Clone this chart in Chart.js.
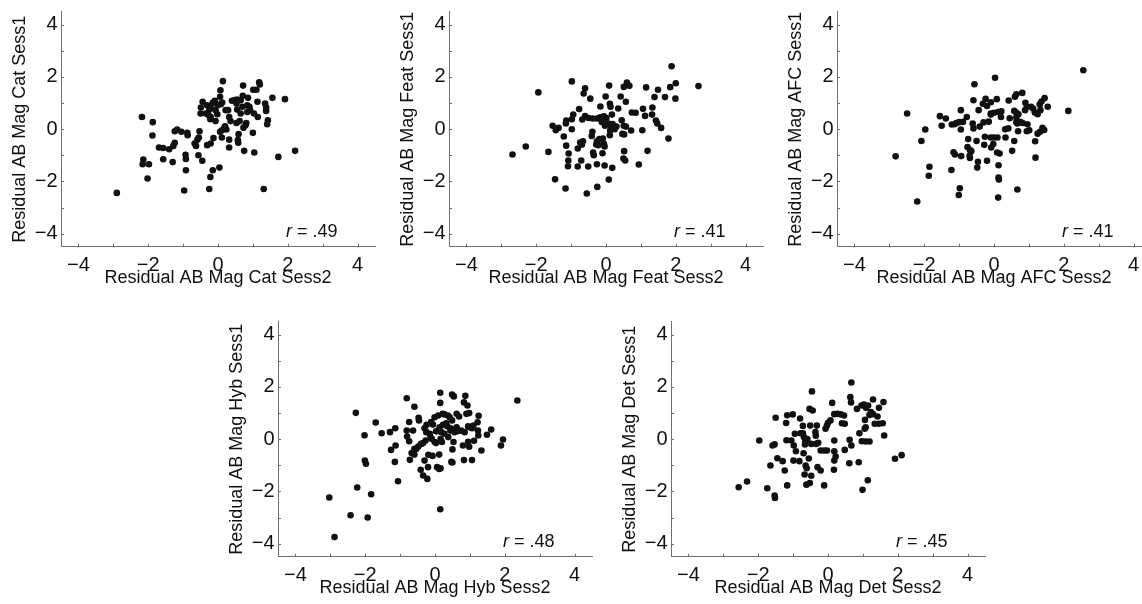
<!DOCTYPE html>
<html>
<head>
<meta charset="utf-8">
<script src="https://cdn.jsdelivr.net/npm/chart.js@4.4.0/dist/chart.umd.min.js"></script>
<style>
  html, body { margin: 0; padding: 0; background: #fff; }
  body { position: relative; width: 1142px; height: 604px; overflow: hidden; }
  .panel { position: absolute; width: 400px; height: 300px; }
</style>
</head>
<body>
<div class="panel" style="left:0px;top:0px"><canvas id="cat" width="400" height="300"></canvas></div>
<div class="panel" style="left:388px;top:0px"><canvas id="feat" width="400" height="300"></canvas></div>
<div class="panel" style="left:776px;top:0px"><canvas id="afc" width="400" height="300"></canvas></div>
<div class="panel" style="left:217px;top:310px"><canvas id="hyb" width="400" height="300"></canvas></div>
<div class="panel" style="left:610px;top:310px"><canvas id="det" width="400" height="300"></canvas></div>
<script>
const conditions = ['Cat', 'Feat', 'AFC', 'Hyb', 'Det'];
const rValues = ['.49', '.41', '.41', '.48', '.45'];
const tickValues = [-4, -3, -2, -1, 0, 1, 2, 3, 4];
const tickLabels = ['\u22124', '', '\u22122', '', '0', '', '2', '', '4'];

// Cat: x = session 2, y = session 1
const catSess2 = [
  0.14, 0.72, 1.18, 1.20, 1.01, 1.10, 0.07, 0.71, 1.56, 1.92,
  0.86, 0.06, 0.40, 0.48, 0.55, 0.53, 0.65, -0.09, -0.15, -0.01,
  -0.44, -0.31, -0.49, -0.21, -0.25, -0.07, 0.08, 0.12, 0.22, 0.29,
  0.84, 0.90, 0.92, 0.84, 1.13, 1.35, 1.38, 1.38, 0.70, 0.55,
  0.65, -0.50, -0.35, -0.27, -0.21, -0.22, -0.07, -0.02, 0.32, 0.36,
  0.53, 0.62, 0.81, 0.79, 0.73, 1.03, 1.14, 1.43, 1.41, 0.20,
  0.18, 0.24, 0.06, 0.11, 0.59, 1.00, -1.24, -1.17, -1.05, -0.88,
  -0.87, -0.53, -0.55, -0.59, -0.67, -0.63, -0.31, -0.21, -0.13, 0.11,
  0.32, 0.57, 0.58, 0.32, 0.75, 1.04, -1.28, -1.24, -1.69, -1.57,
  -1.40, -1.57, -1.30, -0.93, -0.92, -0.56, -0.45, -2.14, -2.16, -1.98,
  -0.92, -0.15, 0.04, -0.22, -2.02, -2.18, -1.87, -1.88, -2.90, -0.97,
  -0.25, 1.31, 1.73, 2.21
];
const catSess1 = [
  1.84, 1.67, 1.80, 1.71, 1.51, 1.51, 1.49, 1.28, 1.20, 1.15,
  1.20, 1.24, 1.09, 1.12, 1.14, 0.98, 1.11, 1.09, 1.01, 0.92,
  1.05, 0.92, 0.83, 0.82, 0.75, 0.73, 0.96, 1.02, 0.73, 0.73,
  0.92, 0.86, 0.73, 0.66, 1.05, 0.98, 0.83, 0.70, 0.86, 0.75,
  0.60, 0.60, 0.60, 0.54, 0.47, 0.38, 0.31, 0.57, 0.47, 0.31,
  0.24, 0.31, 0.24, 0.15, 0.06, 0.60, 0.47, 0.34, 0.19, 0.11,
  0.03, -0.01, -0.10, -0.04, -0.19, -0.14, -0.08, -0.01, -0.10, -0.14,
  -0.23, -0.08, -0.32, -0.40, -0.55, -0.64, -0.61, -0.55, -0.34, -0.32,
  -0.40, -0.42, -0.52, -0.70, -0.83, -0.89, -0.64, -0.52, -0.70, -0.72,
  -0.77, -1.15, -1.26, -0.98, -1.14, -1.00, -1.21, -1.16, -1.34, -1.34,
  -1.57, -1.57, -1.47, -1.83, -1.89, 0.47, 0.27, -0.24, -2.44, -2.35,
  -2.29, -2.29, -1.06, -0.83
];

const featSess2 = [
  1.88, 2.65, 2.00, 1.84, 1.49, 1.15, 1.99, 1.69, 1.39, -0.98,
  -1.94, -0.60, -0.64, -0.45, 0.09, 0.51, 0.60, 0.67, 0.57, 0.42,
  -0.01, 0.11, 0.13, -0.16, 0.35, 0.17, -0.77, -0.94, -1.14, -1.15,
  -0.98, -0.68, -0.60, -0.50, -0.38, -0.26, -0.17, -0.06, -0.03, 0.01,
  -0.12, -0.03, 0.07, 0.15, 0.19, 0.22, 0.25, 0.12, 0.11, 0.30,
  0.45, 0.51, 0.57, 0.52, 0.47, 0.72, 0.74, 0.85, 1.06, 1.12,
  1.32, 1.33, 1.43, 1.47, 1.58, 1.04, 1.79, 1.19, 0.94, 0.52,
  0.50, 0.55, -1.53, -1.44, -1.36, -1.21, -0.98, -1.14, -1.65, -2.30,
  -2.68, -1.07, -1.08, -1.09, -0.81, -0.71, -0.81, -0.69, -0.66, -0.74,
  -0.41, -0.39, -0.26, -0.28, -0.22, -0.19, -0.09, -0.06, -0.04, -0.10,
  -0.37, -0.35, -0.51, -0.26, -0.04, 0.18, -1.46, -1.16, -0.55, -0.25, 0.08
];
const featSess1 = [
  2.41, 1.65, 1.76, 1.61, 1.51, 1.60, 1.17, 1.23, 1.23, 1.83,
  1.41, 1.57, 1.37, 1.17, 1.67, 1.62, 1.79, 1.66, 1.05, 1.25,
  1.25, 0.97, 0.86, 0.87, 0.79, 0.56, 0.77, 0.56, 0.33, 0.22,
  0.38, 0.37, 0.50, 0.43, 0.41, 0.41, 0.46, 0.49, 0.38, 0.43,
  0.28, 0.13, 0.22, 0.09, 0.20, 0.05, 0.00, -0.05, -0.23, 0.10,
  0.34, 0.13, 0.10, -0.20, -0.18, -0.05, 0.64, 0.63, 0.78, 0.51,
  0.56, 0.83, 0.33, 0.22, 0.05, -0.04, -0.36, -0.83, -1.35, -0.84,
  -1.12, -1.20, 0.13, -0.04, 0.05, -0.28, 0.00, -0.63, -0.87, -0.66,
  -0.97, -0.93, -1.20, -1.42, -1.43, -1.20, -0.74, -0.59, -0.46, -0.51,
  -0.26, -0.10, -0.46, -0.59, -0.61, -0.38, -0.36, -0.56, -0.66, -0.92,
  -0.89, -1.00, -1.43, -1.34, -1.39, -1.48, -1.92, -2.27, -2.46, -2.21, -1.93
];

const afcSess2 = [
  2.56, 0.03, -0.56, 2.13, -2.49, -2.82, -2.20, -1.97, -2.08, -1.85,
  -1.87, -1.22, -0.98, -1.01, 0.12, 0.67, 0.13, 0.14, 0.13, -0.20,
  -0.46, -0.48, 1.19, 0.52, 0.58, 1.18, -1.55, -1.38, -1.50, -1.21,
  -1.13, -1.08, -1.00, -0.89, -0.95, -0.78, -0.95, -0.59, -0.44, -0.61,
  -0.59, -0.41, -0.30, -0.15, -0.24, -0.32, -0.20, -0.09, 0.08, -0.09,
  0.00, 0.12, 0.21, -0.09, 0.20, 0.42, 0.60, 0.64, 0.81, 0.58,
  0.64, 0.70, 0.64, 0.67, 0.64, 0.75, 0.82, 0.96, 0.45, 0.41,
  0.32, 0.33, 0.94, 1.01, 0.69, 0.90, 0.94, 0.89, 1.06, 1.12,
  1.17, 1.25, 1.31, 1.36, 1.45, 1.33, 1.54, 1.39, 1.44, 1.32,
  1.25, -0.74, -0.76, -0.69, -0.65, -0.70, -0.69, -0.94, -1.12, -1.16,
  -0.50, -0.26, -0.09, 0.00, 0.10, -0.02, -0.08, -0.28, 0.09, 0.16
];
const afcSess1 = [
  2.26, 1.97, 1.72, 0.70, 0.60, -1.04, -2.77, -0.01, -0.45, -1.44,
  -1.78, -1.56, -2.26, -2.52, -2.62, -2.31, -1.85, -1.93, -1.38, -1.21,
  -1.25, -1.47, -1.09, -0.83, -0.45, -0.46, 0.50, 0.41, 0.13, 0.18,
  0.19, 0.24, 0.27, 0.28, 0.73, 0.47, -0.01, 1.11, 0.73, 0.22,
  0.03, 0.10, 0.26, 0.29, 1.16, 0.97, 0.89, 1.03, 1.15, 0.60,
  0.63, 0.66, 0.69, 0.56, 0.47, 1.10, 1.24, 1.34, 1.39, 0.70,
  0.63, 0.57, 0.45, 0.22, 0.27, 0.28, 0.24, 0.19, 0.42, 0.03,
  0.00, -0.32, -0.08, -0.04, -0.08, 1.01, 0.86, 0.73, 0.86, 0.79,
  0.64, 0.57, 0.95, 1.06, 1.19, 0.73, 0.86, 0.05, -0.03, -0.10,
  -0.17, -0.38, -0.68, -0.80, -0.84, -1.02, -1.10, -1.03, -0.97, -0.88,
  -0.45, -0.29, -0.32, -0.32, -0.32, -0.57, -0.70, -0.60, -0.89, -0.93
];

const hybSess2 = [
  2.36, 0.15, 0.49, 0.54, 0.87, -0.81, -0.59, 0.15, 0.83, 0.93,
  -2.27, -1.70, -2.02, -1.53, -1.29, -1.14, -1.13, -1.26, -1.15, -0.72,
  -0.59, -2.01, -1.98, -1.06, -2.23, -3.03, -1.83, -2.42, -1.93, -2.88,
  0.15, -0.41, -0.34, -0.22, -0.20, -0.30, -0.19, -0.07, 0.12, 0.06,
  0.12, 0.16, 0.47, 0.50, 0.83, 1.06, 0.50, 0.53, 0.80, 0.98,
  0.95, 1.12, 1.33, 1.49, 1.61, 1.25, 1.22, 1.00, 1.10, 1.06,
  0.95, 0.85, 0.75, 0.66, 0.56, 0.44, 0.38, 0.27, 0.18, 0.16,
  0.20, 0.03, -0.01, -0.09, -0.15, -0.25, -0.30, -0.27, -0.34, -0.40,
  -0.48, -0.53, -0.59, -0.67, -0.74, -0.80, -0.81, -0.74, -0.63, -0.47,
  -0.46, -0.24, -0.06, -0.01, -0.11, 0.09, 0.22, 0.27, 0.37, 0.42,
  0.49, 0.32, 0.45, 0.62, 0.69, 0.90, 0.98, 1.23, 1.24, 1.89,
  1.95, 0.62, 0.35, 0.23, 0.13, 0.03, -0.13
];
const hybSess1 = [
  1.48, 1.78, 1.71, 1.64, 1.66, 1.57, 1.24, 1.39, 1.41, 1.29,
  1.01, 0.64, 0.15, 0.23, 0.27, 0.42, -0.24, -0.41, -0.87, -0.79,
  -0.59, -0.82, -0.94, -1.61, -1.85, -2.23, -2.11, -2.91, -3.00, -3.75,
  -2.68, -1.17, -1.39, -1.52, -1.07, -0.82, -0.60, -0.64, -0.59, -1.07,
  -1.14, -1.11, -0.87, -0.89, -0.80, -0.80, -0.39, -0.11, -0.24, -0.29,
  -0.10, -0.06, -0.43, 0.17, 0.37, 0.90, 0.65, 0.46, 0.52, 0.42,
  0.49, 0.27, 0.33, 0.31, 0.27, 0.33, 0.08, 0.21, 0.27, 0.01,
  -0.11, -0.15, -0.11, 0.01, 0.21, 0.27, 0.42, -0.05, -0.15, -0.18,
  -0.28, -0.37, -0.37, -0.53, -0.08, 0.10, 0.33, 0.66, 0.33, 0.82,
  0.72, 0.55, 0.56, 0.84, 0.66, 0.91, 0.97, 0.95, 0.91, 0.84,
  0.72, 0.61, 0.42, 0.97, 0.87, 0.97, 1.00, 0.33, 0.14, -0.24,
  -0.01, 0.46, 0.50, 0.55, 0.46, 0.30, 0.08
];

const detSess2 = [
  0.67, -0.46, 0.64, 0.66, 1.29, 1.59, 0.12, 0.96, 1.03, 1.09,
  1.15, 0.83, 1.46, 1.23, 1.29, 1.19, 1.42, -0.53, -0.44, -1.50,
  -1.17, -1.01, -1.20, -0.80, 0.18, 0.27, 0.37, 0.46, 0.40, 0.48,
  0.07, 0.00, -0.03, -0.07, -0.32, -0.36, -0.35, -0.51, -0.72, -0.79,
  -0.72, -0.69, -0.65, -0.59, -0.66, -0.48, -0.34, -0.28, -0.21, -0.11,
  -0.03, 0.18, 0.18, 0.48, 0.62, 0.67, 0.97, 1.08, 1.19, 0.90,
  1.05, 1.08, 1.06, 1.34, 1.46, 1.57, 1.61, -0.95, -0.98, -0.92,
  -1.05, -1.19, -1.53, -1.59, -1.97, -1.45, -1.30, -1.65, -1.24, -0.99,
  -0.82, -0.70, -0.55, -0.64, -0.61, -0.67, -0.48, -0.52, -0.62, -0.30,
  -0.21, -0.11, 0.17, 0.22, 0.18, 0.61, 0.88, 1.14, 0.99, 1.92,
  2.11, -2.56, -2.32, -1.74, -1.53, -1.52, -1.17
];
const detSess1 = [
  2.17, 1.83, 1.61, 1.41, 1.52, 1.42, 1.39, 1.29, 1.33, 1.20,
  1.29, 1.16, 1.20, 1.04, 0.96, 0.93, 0.87, 1.16, 1.10, 0.82,
  0.92, 0.95, 0.62, 0.79, 0.96, 0.97, 0.95, 0.91, 0.61, 0.59,
  0.72, 0.63, 0.52, 0.40, 0.52, 0.27, 0.13, 0.52, 0.51, 0.23,
  0.23, 0.08, -0.05, 0.01, -0.20, -0.18, -0.18, -0.14, -0.43, -0.43,
  -0.43, -0.05, -0.46, -0.41, -0.02, -0.24, -0.08, -0.09, -0.09, 0.23,
  0.40, 0.46, 0.74, 0.59, 0.59, 0.61, 0.14, 0.21, -0.24, -0.46,
  -0.05, -0.04, -0.20, -0.24, -0.05, -0.73, -0.84, -1.01, -1.20, -0.82,
  -0.84, -0.54, -0.74, -1.01, -1.11, -1.35, -1.40, -1.68, -1.74, -1.07,
  -1.20, -1.77, -1.17, -0.66, -0.82, -0.92, -0.88, -1.57, -1.94, -0.75,
  -0.61, -1.84, -1.62, -1.88, -2.16, -2.25, -1.77
];

const FONT = '"Liberation Sans", Arial, Helvetica, sans-serif';
const AXIS_COLOR = '#707070';
const TEXT_COLOR = '#111';

Chart.defaults.font.family = FONT;
Chart.defaults.font.size = 18;
Chart.defaults.color = TEXT_COLOR;

// matlab style: small tick marks pointing into the plot, plus the r label
const insideTicks = {
  id: 'insideTicks',
  afterDraw(chart, args, opts) {
    const { ctx, chartArea: a, scales: { x, y } } = chart;
    ctx.save();
    ctx.strokeStyle = AXIS_COLOR;
    ctx.lineWidth = 1;
    ctx.beginPath();
    tickValues.forEach(v => {
      const px = Math.round(x.getPixelForValue(v)) + 0.5;
      ctx.moveTo(px, a.bottom);
      ctx.lineTo(px, a.bottom - 3);
      const py = Math.round(y.getPixelForValue(v)) + 0.5;
      ctx.moveTo(a.left, py);
      ctx.lineTo(a.left + 3, py);
    });
    ctx.stroke();

    const tx = x.getPixelForValue(1.95);
    const ty = y.getPixelForValue(-3.92);
    ctx.fillStyle = TEXT_COLOR;
    ctx.textBaseline = 'middle';
    ctx.textAlign = 'left';
    ctx.font = 'italic 18px ' + FONT;
    ctx.fillText('r', tx, ty);
    const w = ctx.measureText('r').width;
    ctx.font = '18px ' + FONT;
    ctx.fillText(' = ' + opts.r, tx + w, ty);
    ctx.restore();
  }
};

function axisOptions(text, isX) {
  return {
    type: 'linear',
    min: -4.5,
    max: 4.5,
    grid: { display: false, drawTicks: false },
    border: { display: true, color: AXIS_COLOR, width: 1 },
    ticks: {
      padding: isX ? 6.3 : 3.5,
      autoSkip: false,
      maxRotation: 0,
      color: TEXT_COLOR,
      font: { size: 20 },
      callback: (v, i) => tickLabels[i]
    },
    afterBuildTicks: s => { s.ticks = tickValues.map(v => ({ value: v })); },
    afterFit: s => {
      if (isX) {
        s.height = 42;
        s.paddingLeft = 0;
        s.paddingRight = 0;
      } else {
        s.width = 61;
        s.paddingTop = 0;
        s.paddingBottom = 0;
      }
    },
    title: {
      display: true,
      text: text,
      color: TEXT_COLOR,
      padding: isX ? { top: 0, bottom: 0 } : { top: 9, bottom: 0 }
    }
  };
}

function makeChart(id, xs, ys, name, r) {
  return new Chart(id, {
    type: 'scatter',
    data: {
      datasets: [{
        data: xs.map((v, i) => ({ x: v, y: ys[i] })),
        pointRadius: 3.3,
        pointBackgroundColor: '#111',
        pointBorderWidth: 0
      }]
    },
    options: {
      responsive: false,
      animation: false,
      events: [],
      layout: { padding: { top: 11.7, right: 25, bottom: 11.3, left: 0 } },
      plugins: {
        legend: { display: false },
        tooltip: { enabled: false },
        insideTicks: { r: r }
      },
      scales: {
        x: axisOptions('Residual AB Mag ' + name + ' Sess2', true),
        y: axisOptions('Residual AB Mag ' + name + ' Sess1', false)
      }
    },
    plugins: [insideTicks]
  });
}

makeChart('cat', catSess2, catSess1, conditions[0], rValues[0]);
makeChart('feat', featSess2, featSess1, conditions[1], rValues[1]);
makeChart('afc', afcSess2, afcSess1, conditions[2], rValues[2]);
makeChart('hyb', hybSess2, hybSess1, conditions[3], rValues[3]);
makeChart('det', detSess2, detSess1, conditions[4], rValues[4]);
</script>
</body>
</html>
